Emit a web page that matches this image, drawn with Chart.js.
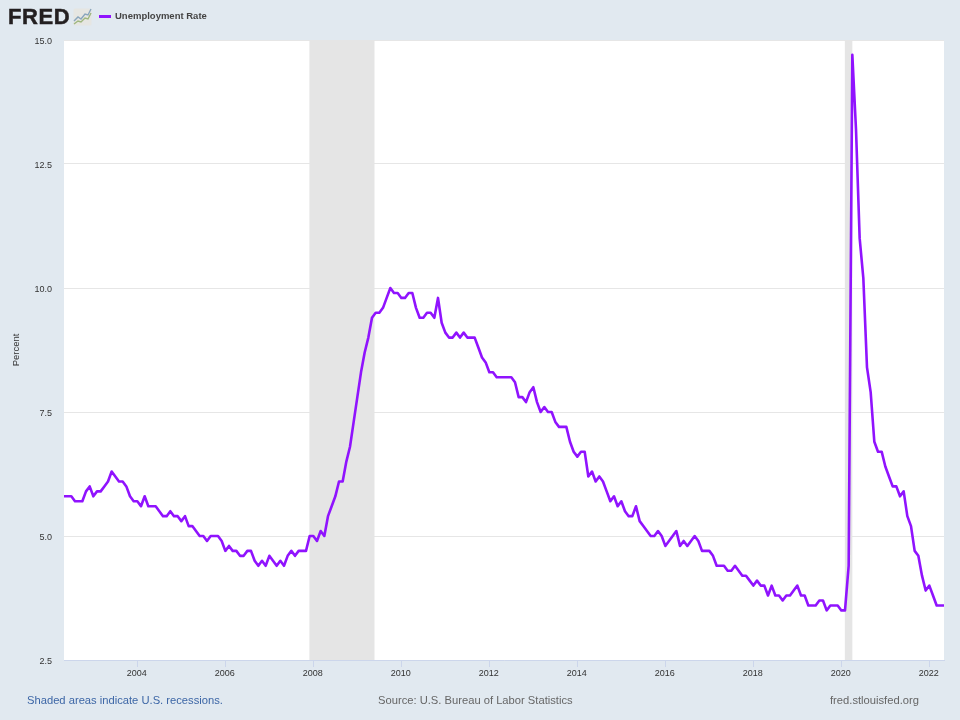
<!DOCTYPE html>
<html>
<head>
<meta charset="utf-8">
<title>Unemployment Rate</title>
<script src="https://cdn.jsdelivr.net/npm/chart.js@4"></script>
<style>
  html, body { margin: 0; padding: 0; background: #e1e9f0; }
  #wrap { position: relative; width: 960px; height: 720px; overflow: hidden; font-family: "Liberation Sans", Arial, sans-serif; }
  #chart { position: absolute; left: 0; top: 0; }
  .txt { position: absolute; white-space: nowrap; }
  #logo { left: 8px; top: 4px; font-size: 22px; line-height: 25px; font-weight: bold; color: #231f20; letter-spacing: 0.6px; -webkit-text-stroke: 0.5px #231f20; }
  #icon { position: absolute; left: 73px; top: 8px; }
  #key { position: absolute; left: 99px; top: 15px; width: 12px; height: 2.5px; background: #9013fe; }
  #name { left: 115px; top: 10px; font-size: 9.5px; line-height: 12px; font-weight: bold; color: #444; }
  .foot { top: 693px; font-size: 11.2px; line-height: 14px; color: #666; }
  #note { left: 27px; color: #3c66a6; }
  #source { left: 378px; }
  #site { left: 830px; }
</style>
</head>
<body>
<div id="wrap">
  <canvas id="chart" width="960" height="720"></canvas>
  <div id="logo" class="txt">FRED</div>
  <svg id="icon" width="19" height="18" viewBox="0 0 19 18">
    <rect x="0.5" y="0.5" width="18" height="17" rx="1.5" fill="#e6e6e2"/>
    <polyline points="1,13 5,9 8,11 12,6 15,7 18,1" fill="none" stroke="#8aa6bd" stroke-width="1.4"/>
    <polyline points="1,16 5,13 8,14 12,10 15,11 18,5" fill="none" stroke="#9fb77f" stroke-width="1.4"/>
  </svg>
  <div id="key"></div>
  <div id="name" class="txt">Unemployment Rate</div>
  <div id="note" class="txt foot">Shaded areas indicate U.S. recessions.</div>
  <div id="source" class="txt foot">Source: U.S. Bureau of Labor Statistics</div>
  <div id="site" class="txt foot">fred.stlouisfed.org</div>
</div>
<script>
// Bulanan, Mei 2002 sampai Mei 2022
const firstYear = 2002;
const firstMonth = 5;

const unemployment = [
  5.8, 5.8, 5.8, 5.7, 5.7, 5.7, 5.9, 6.0,
  5.8, 5.9, 5.9, 6.0, 6.1, 6.3, 6.2, 6.1, 6.1, 6.0, 5.8, 5.7,
  5.7, 5.6, 5.8, 5.6, 5.6, 5.6, 5.5, 5.4, 5.4, 5.5, 5.4, 5.4,
  5.3, 5.4, 5.2, 5.2, 5.1, 5.0, 5.0, 4.9, 5.0, 5.0, 5.0, 4.9,
  4.7, 4.8, 4.7, 4.7, 4.6, 4.6, 4.7, 4.7, 4.5, 4.4, 4.5, 4.4,
  4.6, 4.5, 4.4, 4.5, 4.4, 4.6, 4.7, 4.6, 4.7, 4.7, 4.7, 5.0,
  5.0, 4.9, 5.1, 5.0, 5.4, 5.6, 5.8, 6.1, 6.1, 6.5, 6.8, 7.3,
  7.8, 8.3, 8.7, 9.0, 9.4, 9.5, 9.5, 9.6, 9.8, 10.0, 9.9, 9.9,
  9.8, 9.8, 9.9, 9.9, 9.6, 9.4, 9.4, 9.5, 9.5, 9.4, 9.8, 9.3,
  9.1, 9.0, 9.0, 9.1, 9.0, 9.1, 9.0, 9.0, 9.0, 8.8, 8.6, 8.5,
  8.3, 8.3, 8.2, 8.2, 8.2, 8.2, 8.2, 8.1, 7.8, 7.8, 7.7, 7.9,
  8.0, 7.7, 7.5, 7.6, 7.5, 7.5, 7.3, 7.2, 7.2, 7.2, 6.9, 6.7,
  6.6, 6.7, 6.7, 6.2, 6.3, 6.1, 6.2, 6.1, 5.9, 5.7, 5.8, 5.6,
  5.7, 5.5, 5.4, 5.4, 5.6, 5.3, 5.2, 5.1, 5.0, 5.0, 5.1, 5.0,
  4.8, 4.9, 5.0, 5.1, 4.8, 4.9, 4.8, 4.9, 5.0, 4.9, 4.7, 4.7,
  4.7, 4.6, 4.4, 4.4, 4.4, 4.3, 4.3, 4.4, 4.3, 4.2, 4.2, 4.1,
  4.0, 4.1, 4.0, 4.0, 3.8, 4.0, 3.8, 3.8, 3.7, 3.8, 3.8, 3.9,
  4.0, 3.8, 3.8, 3.6, 3.6, 3.6, 3.7, 3.7, 3.5, 3.6, 3.6, 3.6,
  3.5, 3.5, 4.4, 14.7, 13.2, 11.0, 10.2, 8.4, 7.9, 6.9, 6.7, 6.7,
  6.4, 6.2, 6.0, 6.0, 5.8, 5.9, 5.4, 5.2, 4.7, 4.6, 4.2, 3.9,
  4.0, 3.8, 3.6, 3.6, 3.6
];

const xTicks = [2004, 2006, 2008, 2010, 2012, 2014, 2016, 2018, 2020, 2022];
const yTicks = [2.5, 5.0, 7.5, 10.0, 12.5, 15.0];

// Resesi, dalam tahun desimal
const recessionStart = [2007.91, 2020.08];
const recessionEnd = [2009.39, 2020.25];

// Sumbu x pakai tahun desimal, supaya tidak perlu adapter tanggal
const toYear = i => firstYear + (firstMonth - 1 + i) / 12;
const points = unemployment.map((v, i) => ({ x: toYear(i), y: v }));

// Area abu-abu resesi, digambar di bawah garis
const recessionBands = {
  id: "recessionBands",
  beforeDatasetsDraw(chart) {
    const { ctx, chartArea, scales } = chart;
    ctx.save();
    ctx.fillStyle = "#e5e5e5";
    recessionStart.forEach((start, i) => {
      const x0 = scales.x.getPixelForValue(start);
      const x1 = scales.x.getPixelForValue(recessionEnd[i]);
      ctx.fillRect(x0, chartArea.top, x1 - x0, chartArea.bottom - chartArea.top);
    });
    ctx.restore();
  }
};

// Latar putih untuk area plot
const plotBackground = {
  id: "plotBackground",
  beforeDraw(chart) {
    const { ctx, chartArea } = chart;
    ctx.save();
    ctx.fillStyle = "#ffffff";
    ctx.fillRect(chartArea.left, chartArea.top, chartArea.right - chartArea.left, chartArea.bottom - chartArea.top);
    ctx.restore();
  }
};

const tickFont = { family: '"Liberation Sans", Arial, sans-serif', size: 9 };

new Chart(document.getElementById("chart").getContext("2d"), {
  type: "line",
  data: {
    datasets: [{
      label: "Unemployment Rate",
      data: points,
      borderColor: "#9013fe",
      borderWidth: 2.6,
      pointRadius: 0,
      tension: 0,
      borderJoinStyle: "round"
    }]
  },
  options: {
    responsive: false,
    animation: false,
    layout: { padding: { top: 40, right: 16, left: 0, bottom: 0 } },
    plugins: { legend: { display: false }, tooltip: { enabled: false } },
    scales: {
      x: {
        type: "linear",
        min: toYear(0),
        max: toYear(unemployment.length - 1),
        afterBuildTicks: scale => { scale.ticks = xTicks.map(v => ({ value: v })); },
        afterFit: scale => { scale.height = 60; },
        grid: { drawOnChartArea: false, drawTicks: true, tickLength: 7, tickColor: "#ccd6eb" },
        border: { color: "#ccd6eb" },
        ticks: {
          callback: v => String(v),
          font: tickFont,
          color: "#333333",
          padding: 1,
          labelOffset: -0.5,
          autoSkip: false,
          maxRotation: 0
        }
      },
      y: {
        min: 2.5,
        max: 15,
        afterBuildTicks: scale => { scale.ticks = yTicks.map(v => ({ value: v })); },
        afterFit: scale => { scale.width = 64; },
        grid: { color: "#e6e6e6", drawTicks: false },
        border: { display: false },
        ticks: {
          callback: v => v.toFixed(1),
          font: tickFont,
          color: "#333333",
          padding: 12,
          labelOffset: 1.5
        },
        title: {
          display: true,
          text: "Percent",
          font: { family: tickFont.family, size: 9.5 },
          color: "#333333",
          padding: { top: 11, bottom: 0 }
        }
      }
    }
  },
  plugins: [plotBackground, recessionBands]
});
</script>
</body>
</html>
